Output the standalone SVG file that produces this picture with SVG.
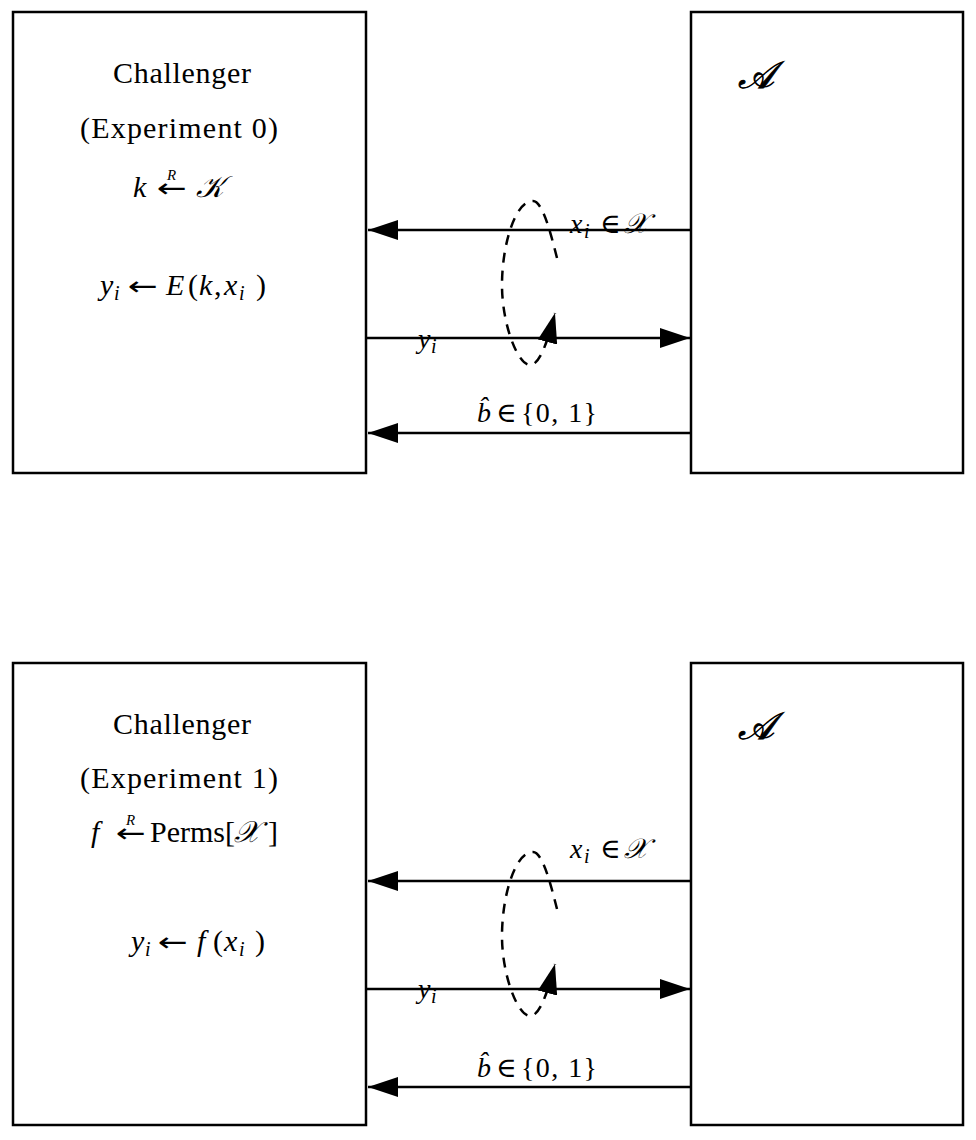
<svg xmlns="http://www.w3.org/2000/svg" width="976" height="1140" viewBox="0 0 976 1140">
<style>
.box{fill:#fff;stroke:#000;stroke-width:2.5}
.t{font-family:"Liberation Serif","DejaVu Serif",serif;font-size:30px;fill:#000}
.l{font-family:"Liberation Serif","DejaVu Serif",serif;font-size:28px;fill:#000}
.i{font-style:italic}
.s{font-size:20px;font-style:italic}
.r{font-size:15px;font-style:italic}
.ar{font-family:"DejaVu Sans",sans-serif;font-size:26px}
.sc{font-family:"DejaVu Serif","Liberation Serif",serif;font-style:italic}
.A{font-size:38px;stroke:#000;stroke-width:0.8}
.conn{stroke:#000;stroke-width:2.5;fill:none}
.dash{stroke-dasharray:10 8}
</style>
<defs>
<marker id="ah" markerUnits="userSpaceOnUse" markerWidth="30" markerHeight="20" refX="30" refY="10" orient="auto">
<path d="M0,0 L30,10 L0,20 z" fill="#000"/>
</marker>
</defs>

<g id="challenger0">
<rect class="box" x="13" y="12" width="353" height="461"/>
<text class="t" x="113" y="83" textLength="138">Challenger</text>
<text class="t" x="80" y="138" textLength="198">(Experiment 0)</text>
<text class="t" y="197"><tspan class="i" x="133">k</tspan><tspan class="ar" x="157" textLength="30" lengthAdjust="spacingAndGlyphs">←</tspan><tspan class="r" x="167" dy="-17">R</tspan><tspan class="sc" x="196" dy="17">𝒦</tspan></text>
<text class="t" y="295"><tspan class="i" x="100">y</tspan><tspan class="s" x="114" dy="5">i</tspan><tspan class="ar" x="128" dy="-5" textLength="30" lengthAdjust="spacingAndGlyphs">←</tspan><tspan class="i" x="166">E</tspan><tspan x="188">(</tspan><tspan class="i" x="199">k</tspan><tspan x="214">,</tspan><tspan class="i" x="224">x</tspan><tspan class="s" x="239" dy="5">i</tspan><tspan x="256" dy="-5">)</tspan></text>
</g>

<g id="adversary0">
<rect class="box" x="691" y="12" width="272" height="461"/>
<text class="t sc A" x="738" y="88">𝒜</text>
</g>

<g id="challenger1">
<rect class="box" x="13" y="663" width="353" height="462"/>
<text class="t" x="113" y="734" textLength="138">Challenger</text>
<text class="t" x="80" y="788" textLength="198">(Experiment 1)</text>
<text class="t" y="842"><tspan class="i" x="91">f</tspan><tspan class="ar" x="116" textLength="30" lengthAdjust="spacingAndGlyphs">←</tspan><tspan class="r" x="126" dy="-17">R</tspan><tspan x="150" dy="17">Perms</tspan><tspan x="225">[</tspan><tspan class="sc" x="234">𝒳</tspan><tspan x="268">]</tspan></text>
<text class="t" y="951"><tspan class="i" x="131">y</tspan><tspan class="s" x="145" dy="5">i</tspan><tspan class="ar" x="158" dy="-5" textLength="30" lengthAdjust="spacingAndGlyphs">←</tspan><tspan class="i" x="197">f</tspan><tspan x="213">(</tspan><tspan class="i" x="224">x</tspan><tspan class="s" x="239" dy="5">i</tspan><tspan x="255" dy="-5">)</tspan></text>
</g>

<g id="adversary1">
<rect class="box" x="691" y="663" width="272" height="462"/>
<text class="t sc A" x="738" y="739">𝒜</text>
</g>

<g id="connectors">
<line class="conn" x1="691" y1="230" x2="368" y2="230" marker-end="url(#ah)"/>
<line class="conn" x1="366" y1="338" x2="690" y2="338" marker-end="url(#ah)"/>
<line class="conn" x1="691" y1="433" x2="368" y2="433" marker-end="url(#ah)"/>
<path class="conn dash" d="M557,258 C550,230 542,201 533,201 C515,201 502,245 502,285 C502,325 518,365 530,365 C540,365 548,340 555,313" marker-end="url(#ah)"/>
<text class="l" y="233"><tspan class="i" x="570">x</tspan><tspan class="s" x="584" dy="5">i</tspan><tspan x="600" dy="-5">∈</tspan><tspan class="sc" x="624">𝒳</tspan></text>
<text class="l" y="348"><tspan class="i" x="418">y</tspan><tspan class="s" x="431" dy="5">i</tspan></text>
<text class="l" y="422"><tspan class="i" x="477">b̂</tspan><tspan x="496">∈</tspan><tspan x="521" textLength="76">{0, 1}</tspan></text>

<line class="conn" x1="691" y1="881" x2="368" y2="881" marker-end="url(#ah)"/>
<line class="conn" x1="366" y1="989" x2="690" y2="989" marker-end="url(#ah)"/>
<line class="conn" x1="691" y1="1087" x2="368" y2="1087" marker-end="url(#ah)"/>
<path class="conn dash" d="M557,909 C550,881 542,852 533,852 C515,852 502,896 502,936 C502,976 518,1016 530,1016 C540,1016 548,991 555,964" marker-end="url(#ah)"/>
<text class="l" y="858"><tspan class="i" x="570">x</tspan><tspan class="s" x="584" dy="5">i</tspan><tspan x="600" dy="-5">∈</tspan><tspan class="sc" x="624">𝒳</tspan></text>
<text class="l" y="998"><tspan class="i" x="418">y</tspan><tspan class="s" x="431" dy="5">i</tspan></text>
<text class="l" y="1077"><tspan class="i" x="477">b̂</tspan><tspan x="496">∈</tspan><tspan x="521" textLength="76">{0, 1}</tspan></text>
</g>
</svg>
